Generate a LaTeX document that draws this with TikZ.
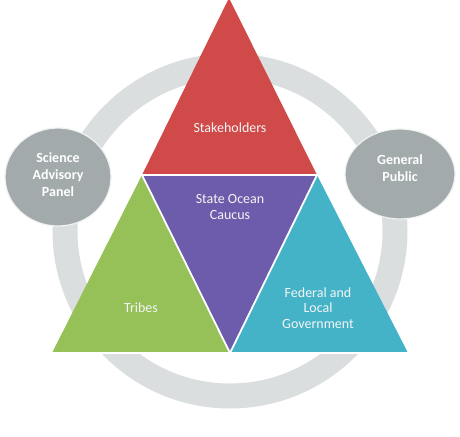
\documentclass[tikz,border=0pt]{standalone}
\usepackage{fontspec}
\setmainfont{Carlito}
\definecolor{tred}{HTML}{CF4A48}
\definecolor{tpurple}{HTML}{6D5BAB}
\definecolor{tgreen}{HTML}{95C158}
\definecolor{tblue}{HTML}{44B3C8}
\definecolor{ringgray}{HTML}{DADEDF}
\definecolor{circgray}{HTML}{A2AAAB}
\tikzset{
  tri/.style={draw=white, line width=1.8pt, line join=miter},
  lbl/.style={text=white!92!gray, font=\fontsize{14}{15.5}\selectfont, align=center},
  clbl/.style={text=white, font=\bfseries\fontsize{14}{17}\selectfont, align=center},
  bubble/.style={fill=circgray, draw=white!85!circgray, line width=1.2pt}
}
\begin{document}
\begin{tikzpicture}[x=1pt,y=-1pt]
\useasboundingbox (0,0) rectangle (460,436);
% ring
\draw[ringgray, line width=25pt] (230,231) circle (165);
% bubbles
\draw[bubble] (58,177) ellipse (53 and 49);
\draw[bubble] (400,174) ellipse (55 and 45);
\node[clbl] (sap) at (58,175) {Science\\Advisory\\Panel};
\node[clbl] (gp) at (400,168) {General\\Public};
% triangles
\coordinate (A) at (229,-2);
\coordinate (B) at (142,175);
\coordinate (C) at (317,175);
\coordinate (D) at (52,353);
\coordinate (E) at (230,353);
\coordinate (F) at (408,353);
\fill[tred] (A) -- (B) -- (C) -- cycle;
\fill[tgreen] (B) -- (D) -- (E) -- cycle;
\fill[tpurple] (B) -- (C) -- (E) -- cycle;
\fill[tblue] (C) -- (E) -- (F) -- cycle;
\draw[tri] (B) -- (C) -- (E) -- cycle;
\draw[white, line width=1.2pt] (D) -- (F);
\node[lbl] (sh) at (230,128) {Stakeholders};
\node[lbl] (soc) at (230,207) {State Ocean\\Caucus};
\node[lbl] (tr) at (141,308) {Tribes};
\node[lbl] (flg) at (318,308) {Federal and\\Local\\Government};
\end{tikzpicture}
\end{document}
